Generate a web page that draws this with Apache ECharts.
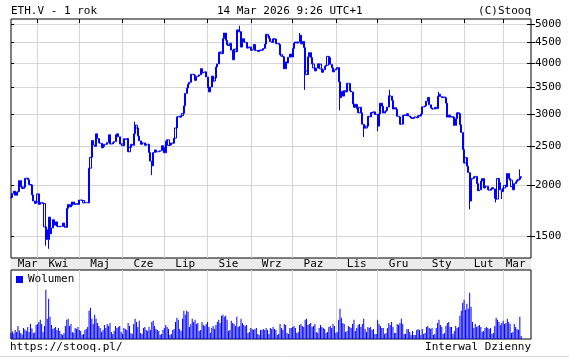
<!DOCTYPE html>
<html><head><meta charset="utf-8">
<script src="https://cdn.jsdelivr.net/npm/echarts@6/dist/echarts.min.js"></script>
<style>html,body{margin:0;padding:0;background:#fff}#c{width:569px;height:361px}</style>
</head><body><div id="c"></div>
<script>
// ---- axis / labels ----
const firstDay = [2025, 2, 13];   // 13 Mar 2025
const lastAxisDay = [2026, 2, 21]; // axis runs a week past last quote
const monthLabels = ['Mar','Kwi','Maj','Cze','Lip','Sie','Wrz','Paz','Lis','Gru','Sty','Lut','Mar'];
const monthLabelDates = ['2025-03-25','2025-04-16','2025-05-16','2025-06-16','2025-07-16','2025-08-16','2025-09-16','2025-10-16','2025-11-16','2025-12-16','2026-01-16','2026-02-15','2026-03-10'];
const priceTicks = [1500, 2000, 2500, 3000, 3500, 4000, 4500, 5000];

// ---- daily closes (USD) ----
const close_2025_03 = [1865,1910,1935,1890,1925,1930,2055,1985,1965,1980,2080,2085,2065,2010,2005,1895,1830,1805,1820];
const close_2025_04 = [1905,1795,1815,1810,1805,1580,1555,1470,1670,1520,1570,1645,1595,1625,1585,1580,1585,1585,1615,1585,1575,1755,1795,1770,1785,1820,1795,1800,1800,1795];
const close_2025_05 = [1840,1840,1835,1810,1815,1815,1810,2205,2345,2580,2515,2495,2680,2610,2545,2540,2475,2495,2525,2525,2550,2665,2530,2530,2550,2565,2665,2680,2635,2530,2530];
const close_2025_06 = [2505,2605,2595,2610,2420,2480,2525,2510,2680,2815,2770,2645,2575,2525,2545,2545,2510,2525,2525,2410,2295,2235,2410,2445,2420,2420,2425,2435,2505,2485];
const close_2025_07 = [2405,2570,2590,2510,2515,2545,2540,2615,2770,2950,2960,2945,2970,3010,3140,3370,3475,3550,3590,3755,3760,3740,3630,3710,3720,3745,3880,3785,3800,3810,3700];
const close_2025_08 = [3480,3400,3495,3720,3615,3680,3915,3985,4255,4265,4225,4600,4750,4555,4440,4425,4480,4310,4080,4335,4270,4835,4780,4785,4385,4600,4510,4505,4360,4370,4390];
const close_2025_09 = [4305,4325,4450,4300,4305,4275,4305,4310,4310,4350,4460,4715,4670,4605,4525,4500,4595,4590,4470,4480,4450,4200,4165,4150,3875,4030,4010,4140,4215,4145];
const close_2025_10 = [4350,4485,4515,4485,4515,4690,4465,4530,4370,3830,3750,4150,4250,4130,3985,3895,3830,3890,3985,3980,3875,3800,3855,3935,3955,4160,4130,3975,3900,3810,3850];
const close_2025_11 = [3875,3905,3600,3290,3410,3320,3425,3400,3570,3570,3420,3400,3175,3115,3170,3090,3020,3115,3020,2830,2770,2770,2800,2960,2950,3025,3020,3035,2990,2995];
const close_2025_12 = [2800,3000,3190,3135,3015,3040,3060,3120,3325,3320,3240,3085,3110,3080,2960,2950,2830,2830,2975,2980,2975,3005,2965,2950,2930,2925,2945,2950,2935,2970,2965];
const close_2026_01 = [3000,3125,3125,3140,3225,3295,3160,3105,3085,3085,3115,3090,3320,3355,3310,3290,3305,3290,3190,2945,2980,2950,2950,2950,2810,2920,3020,3005,2820,2700,2450];
const close_2026_02 = [2270,2340,2230,2150,1830,2070,2080,2100,2105,2020,1940,1950,2050,2080,1970,1990,1990,1950,1945,1960,1975,1960,1855,1850,2080,2030,1950,1930];
const close_2026_03 = [1970,2000,1985,2140,2080,2060,1985,1950,2020,2040,2060,2070,2100,2090];

// intraday extremes visible as spikes
const wickLows = [['2025-04-07',1420],['2025-04-09',1395],['2025-06-22',2120],['2025-10-10',3440],['2025-11-04',3060],['2025-11-21',2630],['2025-12-01',2720],['2026-02-05',1745],['2026-02-24',1815],['2026-02-28',1850]];
const wickHighs = [['2025-06-10',2870],['2025-08-24',4950],['2025-10-06',4750],['2025-12-10',3440],['2026-01-14',3400],['2026-03-13',2190]];

// ---- daily volume (relative units) ----
const vol_2025_03 = [60,75,55,90,70,130,85,60,45,110,95,80,120,70,150,105,60,65,140];
const vol_2025_04 = [150,170,190,150,70,130,490,200,400,220,140,100,110,120,90,110,80,50,40,60,130,190,200,130,150,70,60,110,100,120];
const vol_2025_05 = [90,80,40,50,90,100,120,280,310,200,150,240,200,160,130,110,70,90,140,110,150,130,160,70,50,80,130,110,120,130,70];
const vol_2025_06 = [50,110,100,90,160,130,60,50,150,200,170,120,180,60,50,110,120,90,80,120,90,170,180,130,100,90,80,40,50,90];
const vol_2025_07 = [110,140,120,100,40,50,90,100,170,210,190,100,80,200,280,240,280,270,120,150,200,170,190,150,160,80,90,170,140,130,150];
const vol_2025_08 = [170,120,60,110,130,100,140,170,190,160,230,240,220,230,190,80,90,180,160,150,130,220,120,130,200,160,140,130,140,60,70];
const vol_2025_09 = [110,100,90,100,110,50,40,90,90,100,90,110,90,50,110,100,120,100,90,40,50,150,110,90,150,140,60,50,110,110];
const vol_2025_10 = [120,130,110,60,70,140,150,130,120,190,200,140,150,160,120,130,150,70,60,110,140,120,110,100,60,70,120,130,110,150,130];
const vol_2025_11 = [60,70,190,300,210,160,150,70,80,130,120,110,150,190,80,110,140,150,120,150,200,100,70,120,110,120,90,100,50,50];
const vol_2025_12 = [190,150,130,110,110,50,60,110,160,140,170,120,60,60,150,140,160,200,150,50,50,100,100,70,40,80,40,40,90,100,90];
const vol_2026_01 = [40,100,50,60,120,130,110,100,110,40,50,110,160,190,140,120,50,60,130,160,170,120,120,50,80,130,110,120,230,280,360];
const vol_2026_02 = [390,290,350,300,460,320,170,110,150,120,130,140,120,70,80,110,120,110,100,110,50,60,130,210,190,170,140,160];
const vol_2026_03 = [180,150,160,200,170,150,60,70,150,120,100,90,220,30];

// ---- build ----
const dates = [];
for (let t = Date.UTC(...firstDay); t <= Date.UTC(...lastAxisDay); t += 86400000) {
  dates.push(new Date(t).toISOString().slice(0, 10));
}
const closes = [].concat(close_2025_03, close_2025_04, close_2025_05, close_2025_06, close_2025_07, close_2025_08,
  close_2025_09, close_2025_10, close_2025_11, close_2025_12, close_2026_01, close_2026_02, close_2026_03);
const volumes = [].concat(vol_2025_03, vol_2025_04, vol_2025_05, vol_2025_06, vol_2025_07, vol_2025_08,
  vol_2025_09, vol_2025_10, vol_2025_11, vol_2025_12, vol_2026_01, vol_2026_02, vol_2026_03);
const lowMap = Object.fromEntries(wickLows), highMap = Object.fromEntries(wickHighs);
const candles = closes.map((c, i) => {
  const o = i ? closes[i - 1] : c;
  const d = dates[i];
  return [o, c, lowMap[d] ?? Math.min(o, c), highMap[d] ?? Math.max(o, c)];
});
const labelSet = new Set(monthLabelDates);
const isMonthStart = (i, v) => v.endsWith('-01');

const FONT = '"DejaVu Sans Mono", monospace';
const BLUE = '#0000ff';
const GRIDC = '#d4d4d4';
const tf = { fontFamily: FONT, fontSize: 11, color: '#000' };

const logAxisBase = { type: 'log', logBase: 10, gridIndex: 0, min: 1324, max: 5143,
  axisLine: { show: false }, splitLine: { show: false }, axisLabel: { show: false } };

const chart = echarts.init(document.getElementById('c'), null, { renderer: 'canvas' });
chart.setOption({
  animation: false,
  backgroundColor: '#fff',
  textStyle: tf,
  grid: [
    { left: 11, right: 38, top: 19, height: 239, show: true, borderColor: '#000', borderWidth: 1, backgroundColor: '#fff' },
    { left: 11, right: 38, top: 270, height: 69, show: true, borderColor: '#000', borderWidth: 1, backgroundColor: '#fff' }
  ],
  legend: { data: ['Wolumen'], left: 16, top: 274, icon: 'rect', itemWidth: 7, itemHeight: 7, padding: 0,
    selectedMode: false, textStyle: tf },
  xAxis: [
    { type: 'category', gridIndex: 0, data: dates, boundaryGap: false, position: 'bottom',
      axisLine: { show: false }, axisTick: { show: false },
      axisLabel: { interval: (i, v) => labelSet.has(v), formatter: v => monthLabels[monthLabelDates.indexOf(v)],
        margin: 1, ...tf },
      splitLine: { show: true, interval: isMonthStart, lineStyle: { color: GRIDC, width: 1 } } },
    { type: 'category', gridIndex: 0, data: dates, boundaryGap: false, position: 'top',
      axisLine: { show: false }, axisLabel: { show: false }, splitLine: { show: false },
      axisTick: { show: true, inside: true, length: 4, interval: isMonthStart, lineStyle: { color: '#000' } } },
    { type: 'category', gridIndex: 1, data: dates, boundaryGap: false,
      axisLine: { show: false }, axisTick: { show: false }, axisLabel: { show: false },
      splitLine: { show: true, interval: isMonthStart, lineStyle: { color: GRIDC, width: 1 } } }
  ],
  yAxis: [
    { ...logAxisBase, position: 'right',
      axisTick: { show: true, length: 4, customValues: priceTicks, lineStyle: { color: '#000' } },
      axisLabel: { show: true, customValues: priceTicks, margin: 4, padding: [3, 0, 0, 0], formatter: v => String(Math.round(v)), ...tf },
      splitLine: { show: true, lineStyle: { color: GRIDC, width: 1 } } },
    { ...logAxisBase, position: 'left',
      axisTick: { show: true, inside: true, length: 3, customValues: priceTicks, lineStyle: { color: '#000' } } },
    { ...logAxisBase, position: 'right',
      axisTick: { show: true, inside: true, length: 4, customValues: priceTicks, lineStyle: { color: '#000' } } },
    { type: 'value', gridIndex: 1, min: 0, max: 685, show: false }
  ],
  series: [
    { name: 'ETH.V', type: 'candlestick', xAxisIndex: 0, yAxisIndex: 0, data: candles, barWidth: 1.6,
      silent: true,
      itemStyle: { color: 'rgba(0,0,0,0)', color0: 'rgba(0,0,0,0)', borderColor: BLUE, borderColor0: BLUE,
        borderColorDoji: BLUE, borderWidth: 1 } },
    { name: 'Wolumen', type: 'bar', xAxisIndex: 2, yAxisIndex: 3, data: volumes, barWidth: 1,
      silent: true, itemStyle: { color: BLUE } }
  ],
  graphic: [
    { type: 'rect', z: -10, shape: { x: 11, y: 258, width: 520, height: 12 }, style: { fill: '#ececec' } },
    { type: 'text', style: { text: 'ETH.V - 1 rok', x: 11, y: 11, font: '11px ' + FONT, fill: '#000', verticalAlign: 'middle', align: 'left' } },
    { type: 'text', style: { text: '14 Mar 2026 9:26 UTC+1', x: 217, y: 11, font: '11px ' + FONT, fill: '#000', verticalAlign: 'middle', align: 'left' } },
    { type: 'text', style: { text: '(C)Stooq', x: 531, y: 11, font: '11px ' + FONT, fill: '#000', verticalAlign: 'middle', align: 'right' } },
    { type: 'text', style: { text: 'https://stooq.pl/', x: 10, y: 347, font: '11px ' + FONT, fill: '#000', verticalAlign: 'middle', align: 'left' } },
    { type: 'text', style: { text: 'Interwal Dzienny', x: 531, y: 347, font: '11px ' + FONT, fill: '#000', verticalAlign: 'middle', align: 'right' } },
    { type: 'line', shape: { x1: 0, y1: 356.5, x2: 569, y2: 356.5 }, style: { stroke: '#d8d8d8', lineWidth: 1 } }
  ]
});
</script></body></html>
